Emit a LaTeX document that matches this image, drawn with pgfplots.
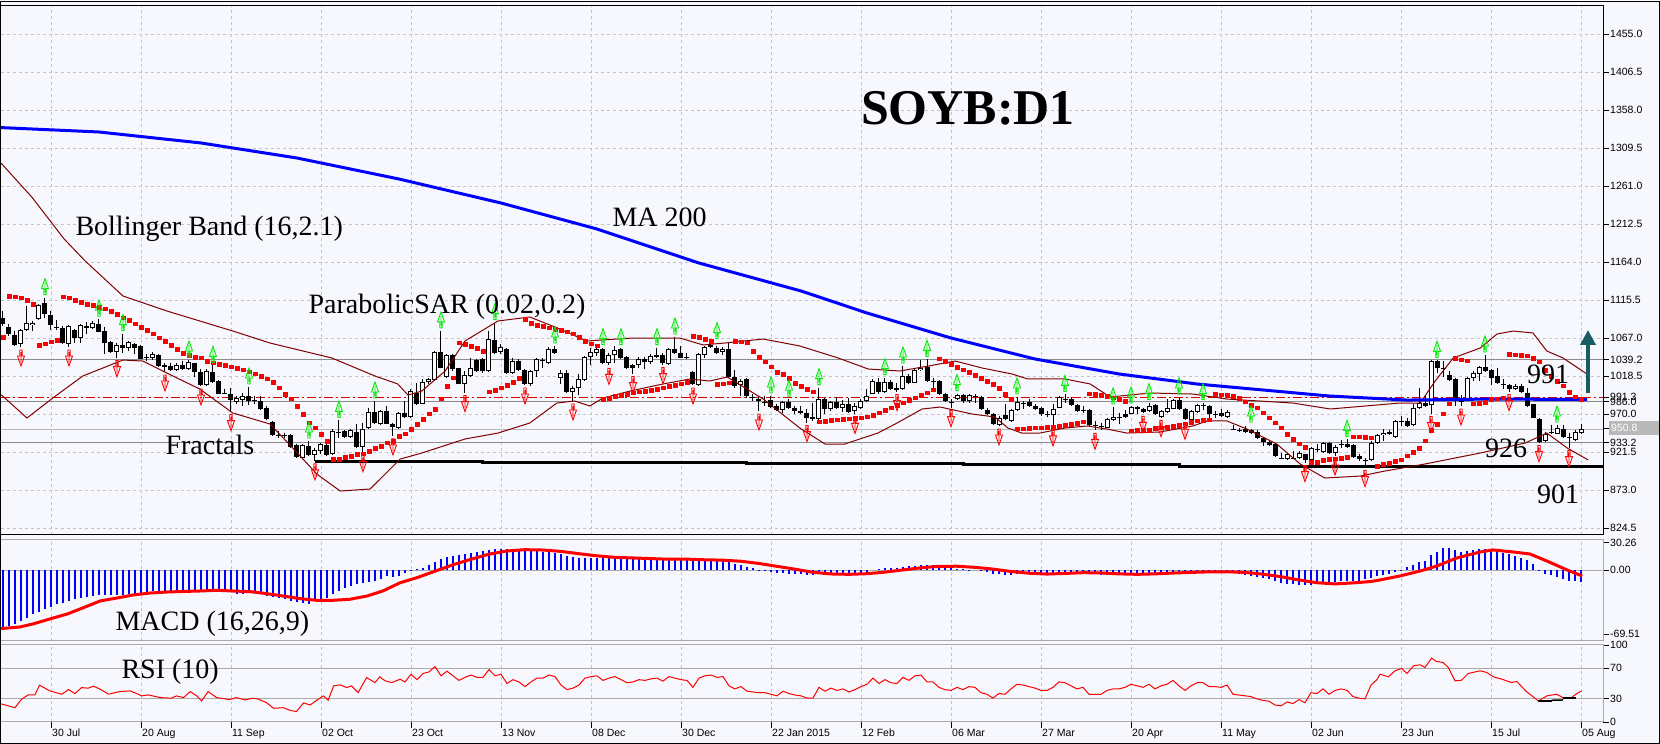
\documentclass[border=0pt]{standalone}
\usepackage{fontspec}
\setmainfont{Liberation Serif}
\newfontfamily\sansf{Liberation Sans}
\usepackage{pgfplots}
\pgfplotsset{compat=1.18}
\usepackage{pgfplotstable}
\usetikzlibrary{arrows.meta}

\definecolor{bgc}{RGB}{246,248,253}
\definecolor{gridc}{RGB}{196,196,196}
\definecolor{bandc}{RGB}{128,0,0}
\definecolor{lvl}{RGB}{140,140,140}
\definecolor{lvllight}{RGB}{185,185,185}
\definecolor{panelc}{RGB}{170,170,170}
\definecolor{arrowc}{RGB}{24,92,100}
\definecolor{fgreen}{RGB}{0,235,0}
\newcommand\tkf{\sansf\fontsize{10.5}{12}\selectfont}
\newcommand\lbf{\fontsize{28}{30}\selectfont}

% fractal arrows
\pgfdeclareplotmark{fup}{%
  \pgfpathmoveto{\pgfqpoint{0pt}{19pt}}%
  \pgfpathlineto{\pgfqpoint{3.5pt}{9pt}}%
  \pgfpathlineto{\pgfqpoint{1.2pt}{9pt}}%
  \pgfpathlineto{\pgfqpoint{1.2pt}{3pt}}%
  \pgfpathlineto{\pgfqpoint{-1.2pt}{3pt}}%
  \pgfpathlineto{\pgfqpoint{-1.2pt}{9pt}}%
  \pgfpathlineto{\pgfqpoint{-3.5pt}{9pt}}%
  \pgfpathclose
  \pgfpathmoveto{\pgfqpoint{0pt}{15pt}}%
  \pgfpathlineto{\pgfqpoint{0pt}{5pt}}%
  \pgfusepathqstroke}
\pgfdeclareplotmark{fdown}{%
  \pgfpathmoveto{\pgfqpoint{0pt}{-19pt}}%
  \pgfpathlineto{\pgfqpoint{3.5pt}{-9pt}}%
  \pgfpathlineto{\pgfqpoint{1.2pt}{-9pt}}%
  \pgfpathlineto{\pgfqpoint{1.2pt}{-3pt}}%
  \pgfpathlineto{\pgfqpoint{-1.2pt}{-3pt}}%
  \pgfpathlineto{\pgfqpoint{-1.2pt}{-9pt}}%
  \pgfpathlineto{\pgfqpoint{-3.5pt}{-9pt}}%
  \pgfpathclose
  \pgfpathmoveto{\pgfqpoint{0pt}{-15pt}}%
  \pgfpathlineto{\pgfqpoint{0pt}{-5pt}}%
  \pgfusepathqstroke}

% i = bar index (0 = 30 Jul), o h l c, s = parabolic SAR, m = MACD histogram
\pgfplotstableread{
i o h l c s m
-8 1093.0 1101.5 1082.3 1084.5 1068.3 -62.3
-7 1081.1 1084.5 1069.6 1072.6 1120.6 -60.5
-6 1070.9 1076.0 1056.8 1058.1 1119.8 -58.0
-5 1059.0 1078.1 1055.5 1077.2 1118.5 -55.1
-4 1076.8 1107.9 1076.0 1086.6 1115.1 -51.5
-3 1083.2 1088.7 1076.0 1086.6 1110.0 -47.8
-2 1090.9 1110.0 1089.6 1108.7 1058.1 -44.9
-1 1111.3 1118.5 1093.0 1097.2 1059.8 -42.4
0 1096.4 1101.5 1077.2 1083.2 1062.4 -39.8
1 1081.3 1089.6 1076.8 1081.1 1064.1 -36.9
2 1079.4 1082.3 1059.0 1060.2 1119.8 -35.1
3 1059.0 1083.6 1055.5 1082.3 1118.5 -33.3
4 1077.2 1078.1 1061.1 1067.5 1115.1 -30.8
5 1067.5 1085.3 1061.1 1083.2 1112.5 -29.7
6 1080.2 1087.5 1071.7 1081.9 1110.0 -28.6
7 1079.4 1088.7 1078.1 1086.6 1108.7 -27.9
8 1084.5 1090.9 1074.7 1075.1 1106.6 -27.2
9 1076.0 1081.1 1047.0 1061.1 1104.5 -26.8
10 1061.9 1063.2 1048.3 1049.6 1101.5 -26.8
11 1049.6 1061.1 1041.9 1058.1 1097.2 -26.8
12 1058.1 1072.6 1048.3 1054.7 1093.0 -26.8
13 1053.8 1063.2 1050.4 1061.9 1089.6 -26.1
14 1059.0 1061.1 1047.0 1054.7 1085.3 -25.4
15 1056.8 1057.7 1039.8 1040.7 1081.1 -24.3
16 1042.4 1046.2 1037.7 1041.9 1077.2 -23.2
17 1041.1 1049.6 1039.4 1046.2 1072.6 -22.5
18 1045.3 1046.2 1030.0 1031.3 1067.5 -22.5
19 1032.6 1035.5 1023.6 1030.0 1062.8 -22.5
20 1031.3 1035.5 1024.9 1026.2 1057.7 -22.5
21 1026.6 1035.5 1024.9 1032.1 1052.6 -22.5
22 1032.1 1037.7 1025.8 1027.0 1047.9 -22.5
23 1027.0 1038.9 1025.8 1036.4 1044.9 -22.5
24 1034.7 1035.5 1017.3 1024.1 1042.8 -22.5
25 1023.6 1027.0 1005.8 1006.6 1041.9 -22.5
26 1006.6 1027.0 1005.8 1024.9 1037.7 -22.5
27 1023.6 1032.1 1009.6 1011.3 1035.5 -21.8
28 1012.2 1013.0 995.1 996.0 1033.4 -21.8
29 997.0 1002.4 995.1 996.8 1032.1 -22.5
30 996.0 1003.6 973.0 987.5 1030.4 -23.2
31 985.8 993.0 982.4 990.9 1028.7 -25.4
32 987.5 997.3 980.2 993.0 1026.6 -25.4
33 993.0 1004.5 981.1 986.6 1024.1 -24.3
34 988.0 993.0 982.4 987.9 1021.5 -25.0
35 986.6 993.0 974.7 975.9 1018.5 -26.1
36 978.1 980.2 961.9 963.2 1015.1 -27.9
37 960.3 961.1 942.0 942.8 1010.9 -29.0
38 943.4 948.3 939.8 943.0 1003.6 -29.7
39 943.2 946.2 939.8 942.8 995.1 -31.5
40 943.2 945.0 927.1 928.4 989.6 -33.3
41 930.1 932.2 914.3 915.6 980.2 -34.4
42 914.3 931.3 913.0 930.5 969.6 -35.1
43 929.2 935.6 916.4 917.3 959.0 -36.2
44 917.7 926.2 910.1 923.7 952.6 -33.3
45 922.8 933.5 918.6 931.3 944.1 -32.6
46 930.1 931.3 916.4 917.7 935.6 -29.7
47 918.6 950.4 917.3 948.3 912.2 -26.1
48 947.5 961.9 939.8 947.3 912.2 -22.5
49 948.3 949.2 939.8 941.1 915.2 -19.6
50 941.1 950.4 939.8 949.2 916.4 -17.0
51 947.1 956.9 927.1 928.4 918.6 -15.2
52 928.4 959.0 920.7 950.4 919.5 -13.4
53 952.6 978.1 951.3 972.6 922.8 -12.7
54 972.6 986.6 956.9 958.1 926.2 -11.6
55 956.9 975.0 955.5 973.9 929.2 -9.8
56 973.9 980.2 956.9 957.7 933.5 -6.2
57 957.7 959.0 942.0 953.9 935.6 -7.3
58 952.6 973.0 951.3 970.9 942.0 -6.2
59 971.7 986.6 965.4 966.6 945.0 -3.0
60 966.6 1001.5 965.4 999.4 950.5 -1.0
61 997.3 1010.0 981.5 983.2 956.9 1.0
62 983.2 1014.3 982.4 1010.9 963.2 3.0
63 1010.9 1016.4 1007.9 1014.3 970.5 6.0
64 1013.0 1050.4 1012.2 1049.2 976.0 9.0
65 1049.2 1076.0 1028.3 1029.2 989.6 12.0
66 1017.3 1046.2 1016.4 1044.9 1005.8 14.0
67 1044.9 1046.2 1024.9 1027.0 1016.4 16.0
68 1028.3 1029.2 1007.9 1008.8 1061.1 17.0
69 1008.8 1024.9 997.3 1019.8 1059.0 18.0
70 1018.5 1041.1 1017.3 1028.3 1056.8 19.0
71 1038.5 1039.8 1024.1 1024.9 1053.9 20.0
72 1039.8 1041.1 1022.8 1024.9 1050.4 21.0
73 1024.9 1076.0 1024.1 1065.3 998.5 22.0
74 1064.1 1086.6 1047.0 1048.3 1000.2 23.0
75 1049.6 1059.0 1046.2 1056.0 1003.6 23.5
76 1052.6 1054.7 1021.5 1022.8 1007.0 23.5
77 1022.8 1042.0 1021.5 1037.7 1010.9 23.0
78 1037.7 1039.8 1024.9 1025.8 1015.6 22.5
79 1025.8 1027.0 1007.0 1007.9 1090.9 22.0
80 1007.9 1025.8 1005.8 1024.9 1085.8 21.0
81 1024.9 1041.9 1017.3 1039.8 1083.2 20.5
82 1039.0 1041.1 1029.2 1039.2 1082.3 20.0
83 1035.5 1055.5 1034.3 1052.6 1080.2 19.5
84 1052.6 1056.8 1046.2 1048.3 1078.1 19.0
85 1015.6 1026.2 1007.9 1022.0 1076.8 17.5
86 1022.0 1025.8 997.3 998.5 1075.1 16.0
87 998.5 1005.8 986.6 1002.8 1072.6 14.5
88 1002.8 1020.7 994.3 1014.3 1068.3 13.5
89 1013.0 1044.1 1012.2 1042.8 1063.2 13.5
90 1042.8 1054.7 1032.1 1049.2 1059.8 13.5
91 1047.9 1056.8 1044.1 1052.6 1057.0 13.5
92 1052.6 1054.7 1033.4 1035.5 988.8 13.5
93 1035.5 1048.3 1032.1 1045.3 990.0 13.5
94 1044.9 1056.8 1035.5 1051.3 992.6 13.5
95 1052.6 1054.7 1040.7 1041.9 994.3 13.5
96 1042.8 1044.1 1027.9 1029.2 995.1 13.0
97 1029.2 1033.4 1021.5 1032.1 997.3 12.5
98 1032.6 1042.8 1029.2 1040.7 998.5 12.0
99 1040.7 1042.8 1027.0 1036.8 999.4 12.0
100 1036.4 1046.2 1033.4 1044.1 1000.6 12.0
101 1042.8 1054.7 1041.1 1045.3 1001.9 12.0
102 1045.3 1047.5 1033.0 1034.7 1003.6 12.0
103 1033.4 1053.9 1032.1 1052.6 1005.8 12.0
104 1052.6 1068.3 1047.0 1048.3 1007.0 12.5
105 1048.3 1056.8 1041.1 1041.9 1008.8 12.5
106 1042.8 1048.3 1039.8 1041.1 1010.9 12.0
107 1023.6 1024.9 1007.0 1007.9 1069.6 10.0
108 1006.6 1047.5 1005.8 1046.2 1068.3 10.0
109 1044.9 1056.8 1041.9 1056.0 1065.3 10.5
110 1055.5 1062.4 1054.7 1058.1 1063.2 11.0
111 1054.7 1056.8 1047.0 1048.3 1007.9 11.0
112 1049.2 1055.5 1045.3 1052.6 1008.8 11.0
113 1052.6 1061.9 1016.4 1017.3 1010.0 9.0
114 1017.3 1026.2 1003.6 1005.8 1063.2 7.0
115 1006.6 1014.3 993.0 1012.2 1062.4 5.5
116 1015.1 1016.4 990.9 993.0 1061.1 3.5
117 991.9 995.1 986.6 991.7 1050.4 2.0
118 988.8 993.0 973.9 986.6 1042.8 0.5
119 985.3 993.0 980.2 985.1 1036.8 -0.5
120 987.5 993.0 978.1 979.0 1030.5 -1.5
121 980.2 983.2 973.9 974.7 1023.6 -2.5
122 974.7 986.6 971.7 985.3 1020.7 -3.0
123 985.3 988.8 975.9 977.3 1015.6 -3.5
124 978.1 980.2 969.6 973.9 1009.5 -4.0
125 973.9 980.2 969.6 971.7 1005.8 -4.5
126 971.7 976.8 959.0 965.4 1001.5 -5.0
127 966.6 984.5 961.1 963.2 998.5 -5.5
128 963.2 1003.6 961.9 988.8 960.3 -4.5
129 988.8 991.0 970.5 976.0 961.1 -4.5
130 976.0 986.6 973.9 985.3 962.0 -4.0
131 985.3 991.7 976.0 978.1 962.8 -4.0
132 978.1 987.5 973.0 982.4 963.2 -3.5
133 983.2 990.9 971.7 973.0 964.1 -3.5
134 973.9 984.5 969.6 980.2 965.0 -3.0
135 978.1 988.8 976.8 986.6 965.4 -2.5
136 986.6 1001.5 985.3 993.0 966.6 -1.5
137 996.0 1014.3 995.1 1012.2 968.8 0.0
138 1010.9 1016.4 996.0 998.5 971.7 1.0
139 998.5 1016.4 997.3 1010.9 974.7 2.0
140 1010.9 1013.0 1000.2 1001.5 978.1 2.5
141 1003.6 1010.0 998.5 1000.2 981.5 3.0
142 1001.5 1031.3 1000.2 1018.5 984.5 4.0
143 1018.5 1020.7 1007.9 1010.0 987.5 4.5
144 1010.0 1028.3 1009.2 1026.2 990.9 5.0
145 1025.8 1038.5 1024.9 1029.2 994.3 6.0
146 1030.5 1039.8 1011.3 1012.2 997.3 6.0
147 1012.6 1016.4 1002.8 1012.4 1001.0 5.5
148 1012.2 1013.9 993.8 995.1 1040.7 4.5
149 995.1 997.3 985.8 986.6 1037.7 3.0
150 985.9 988.8 978.1 985.7 1033.4 2.0
151 988.8 996.0 987.5 993.9 1030.0 1.5
152 993.9 996.0 984.5 986.6 1026.6 1.0
153 986.6 995.1 983.6 993.9 1023.2 0.5
154 993.1 995.1 984.5 992.9 1019.8 0.0
155 991.7 993.0 974.7 976.0 1015.6 -1.0
156 974.7 978.1 968.8 970.5 1012.2 -2.0
157 969.6 971.7 956.0 956.9 1007.9 -3.5
158 956.0 967.5 954.7 965.4 1002.8 -4.5
159 968.4 982.4 962.0 963.2 995.1 -5.0
160 961.1 976.0 960.3 974.7 988.8 -5.0
161 974.7 991.7 973.9 985.3 951.0 -4.5
162 984.6 986.6 976.8 984.4 951.5 -4.0
163 985.3 988.8 978.9 980.2 952.0 -3.5
164 980.2 982.4 974.7 976.0 952.3 -3.5
165 977.3 979.0 967.5 969.6 952.6 -3.5
166 970.6 973.9 966.2 970.4 952.9 -3.5
167 968.8 983.2 953.5 976.8 953.2 -3.5
168 978.1 993.0 977.3 991.7 954.5 -2.5
169 989.7 995.1 984.5 989.5 955.5 -2.0
170 988.8 991.7 980.2 981.1 957.0 -2.0
171 981.1 983.2 973.0 973.9 958.5 -2.0
172 975.3 980.2 971.7 975.1 960.0 -2.0
173 974.7 976.0 954.7 955.6 996.0 -3.0
174 956.2 961.1 949.2 956.0 995.1 -4.0
175 954.9 959.0 949.2 954.7 993.9 -5.0
176 952.6 965.4 951.7 963.2 992.6 -5.0
177 962.4 978.9 961.1 966.6 990.9 -5.0
178 966.8 971.7 957.7 966.6 988.8 -5.0
179 966.6 974.7 965.4 969.6 986.6 -4.5
180 970.5 980.2 969.6 978.9 948.5 -4.0
181 978.9 980.2 969.6 976.0 949.0 -3.5
182 976.0 978.1 970.9 972.6 949.4 -3.5
183 973.9 984.5 972.6 980.2 949.6 -3.0
184 981.1 983.2 968.4 969.6 951.7 -3.0
185 966.6 974.7 965.4 973.9 952.6 -3.0
186 973.0 988.8 971.7 978.1 953.5 -2.5
187 976.8 988.8 975.9 987.5 954.3 -2.0
188 987.5 991.7 975.5 976.8 955.6 -1.5
189 976.8 978.1 962.0 963.2 957.5 -2.0
190 961.9 974.7 961.1 973.9 959.5 -2.0
191 973.0 983.2 971.7 981.5 961.5 -1.5
192 981.3 984.5 974.7 981.1 962.0 -1.0
193 980.2 981.1 963.2 969.6 962.5 -1.5
194 969.7 973.9 964.5 969.5 995.1 -1.5
195 971.7 976.0 966.2 967.5 994.7 -1.5
196 966.6 974.7 965.4 972.6 994.3 -1.5
197 950.5 956.0 949.2 950.3 993.0 -3.0
198 949.5 952.6 947.1 949.3 990.0 -4.0
199 950.4 954.7 945.8 947.1 985.8 -5.0
200 949.2 950.4 944.1 946.2 981.5 -6.0
201 947.5 949.2 937.7 939.8 978.1 -7.0
202 939.8 940.6 929.2 934.7 971.7 -8.5
203 934.3 935.6 928.8 930.1 965.4 -10.0
204 931.3 932.6 915.6 916.4 959.0 -12.0
205 913.5 920.7 912.2 913.3 952.6 -13.5
206 912.2 920.7 911.3 918.6 944.1 -14.5
207 914.4 922.8 912.2 914.2 937.7 -15.0
208 914.3 922.8 912.2 920.7 932.2 -15.5
209 918.6 919.5 907.9 910.9 928.0 -16.0
210 910.9 927.9 910.1 926.2 908.8 -15.5
211 925.0 932.2 921.9 924.8 908.8 -15.0
212 921.9 934.3 920.7 932.6 911.0 -14.0
213 932.6 934.3 919.5 920.7 912.2 -13.5
214 920.7 930.5 916.4 927.9 912.8 -13.0
215 931.4 936.4 927.1 931.2 913.5 -12.0
216 932.2 937.7 926.2 927.9 914.5 -11.5
217 930.1 931.3 914.3 915.6 941.1 -12.0
218 916.4 919.5 910.1 912.2 941.1 -12.5
219 910.9 913.5 901.6 910.7 940.7 -9.0
220 910.9 935.6 910.1 933.5 940.0 -8.0
221 933.5 944.9 932.2 942.8 903.5 -6.5
222 942.8 950.4 935.6 946.2 906.2 -5.3
223 944.1 950.0 943.0 947.1 907.1 -4.1
224 941.1 962.0 939.8 961.1 909.6 -2.3
225 961.2 967.5 954.7 961.0 911.7 0.4
226 961.1 965.4 953.5 954.7 916.8 3.6
227 956.0 982.4 954.7 978.1 921.1 5.7
228 977.3 1002.8 976.0 984.5 926.6 9.0
229 984.5 993.0 978.9 980.2 935.9 10.0
230 981.5 1038.5 970.5 1037.7 949.6 16.5
231 1037.7 1038.5 1022.8 1028.3 957.2 19.8
232 1028.4 1037.7 1017.3 1028.2 970.5 23.8
233 1019.8 1024.9 1012.2 1013.9 983.2 24.5
234 1014.3 1016.4 980.2 986.6 1041.0 22.0
235 985.8 994.3 980.2 988.8 1039.5 20.2
236 988.8 1017.3 987.5 1015.6 1038.0 20.9
237 1015.6 1024.9 1012.2 1022.8 983.2 22.0
238 1020.7 1031.3 1012.2 1030.0 983.6 22.7
239 1030.0 1045.3 1023.6 1024.9 985.0 22.7
240 1025.8 1027.9 1007.1 1016.4 988.7 22.0
241 1018.5 1029.2 1007.9 1009.2 989.5 20.9
242 1008.4 1014.3 1001.5 1006.6 990.8 19.1
243 1006.6 1007.9 998.5 1001.5 1046.1 17.3
244 1001.5 1008.8 1000.2 1005.8 1045.5 15.5
245 1005.8 1008.8 997.3 998.1 1045.0 13.0
246 997.3 1002.8 979.0 980.2 1044.2 10.8
247 982.4 983.2 964.5 965.4 1041.0 7.2
248 963.2 965.4 933.4 934.7 1036.6 0.3
249 935.6 947.1 934.7 944.9 1026.0 -4.1
250 947.2 956.0 944.1 947.0 1018.0 -5.5
251 944.9 956.0 944.1 951.7 1012.0 -7.7
252 950.4 956.0 939.0 940.7 1006.0 -9.1
253 941.2 946.2 927.1 941.0 998.0 -11.3
254 936.4 949.2 935.6 947.5 992.0 -12.0
255 946.2 957.7 944.9 950.4 989.0 -12.7
}\candles

\pgfplotstableread{
i p
-8.3 1290.0
-3.2 1246.9
2.2 1193.3
5.7 1165.3
12 1120.6
19.3 1101.5
30.3 1075.9
36.5 1060.6
46.8 1041.5
54 1018.5
57.8 1008.3
59.5 994.2
61.8 999.3
65.7 1024.9
69 1063.2
74.5 1088.7
79.8 1093.8
84 1081.0
89.3 1063.2
97 1067.0
104.8 1067.0
108.7 1058.1
112.3 1060.6
118.7 1065.7
124.8 1056.8
131.2 1041.5
136.2 1027.4
141.5 1024.9
146.2 1031.2
150.7 1037.6
155.2 1028.7
160.2 1021.0
162.8 1014.7
169 1014.7
173.2 1008.3
176.5 991.7
183.2 996.8
190.3 995.5
196 989.1
207 984.0
213.2 976.4
224.8 984.0
228.2 984.0
230.7 1012.1
233.7 1041.5
238.2 1054.2
241 1072.1
243.7 1075.9
247 1073.4
249.3 1050.4
252 1041.5
256 1021.0
}\bbup

\pgfplotstableread{
i p
-8.3 994.6
-4 964.9
0.3 990.4
5.3 1018.5
12 1038.9
15.3 1037.6
19.3 1022.3
24.8 1001.9
30.3 971.3
36.5 957.2
40.3 926.6
44.3 893.4
48.2 871.7
53.2 874.3
58.2 912.5
61.8 920.2
69 938.1
74.5 945.7
79.8 958.5
84.3 984.0
87.3 986.6
89.8 980.2
92 990.4
96.5 999.3
102 1008.3
106.5 1014.7
109.8 1012.1
112.7 1017.2
118.7 989.1
124.8 952.1
129 931.7
132.3 931.7
137.8 945.7
140.7 957.2
145.2 976.4
148.2 978.9
153.5 970.0
157.3 966.2
159.5 952.1
161.8 945.7
164.8 945.7
169 952.1
172.7 954.7
176 950.8
179.3 945.7
184.8 947.0
190.3 954.7
192.7 961.1
196 961.1
199.3 950.8
204.3 931.7
208.2 906.2
212.3 888.3
218.2 890.8
222.3 897.2
229 906.2
238.2 920.2
245.7 933.0
249.3 945.7
252.7 926.6
256.2 911.3
}\bblow

\pgfplotstableread{
i p
-8.3 1335.5
8 1329.9
25 1315.9
41 1296.7
58 1269.9
75 1239.3
91 1206.1
108 1162.7
125 1127.0
136 1098.9
150 1067.0
164 1040.2
178 1021.1
191 1008.3
213 993.0
226 987.8
240 989.1
256 988.5
}\mama

\pgfplotstableread{
i v
-1 1118.5
8 1090.9
12 1072.6
23 1038.9
27 1032.1
33 1004.5
43 935.6
48 961.9
54 986.6
65 1076.0
74 1086.6
84 1056.8
92 1054.7
95 1054.7
101 1054.7
104 1068.3
111 1062.4
120 993.0
123 988.8
128 1003.6
139 1016.4
142 1031.3
146 1039.8
151 996.0
161 991.7
169 995.1
177 978.9
180 980.2
183 984.5
188 991.7
192 984.5
200 956.0
216 937.7
231 1038.5
239 1045.3
251 956.0
}\fracup

\pgfplotstableread{
i v
-5 1055.5
3 1055.5
11 1041.9
19 1023.6
25 1005.8
30 973.0
44 910.1
52 920.7
57 942.0
69 997.3
79 1007.0
87 986.6
93 1032.1
97 1021.5
102 1033.0
107 1007.0
118 973.9
126 959.0
134 969.6
141 998.5
150 978.1
158 954.7
167 953.5
174 949.2
182 970.9
185 965.4
189 962.0
209 907.9
214 916.4
219 901.6
230 970.5
235 980.2
243 998.5
248 933.4
253 927.1
}\fracdown

\pgfplotstableread{
i v
-8.3 -63.3
-5.2 -61.6
-3.0 -58.3
-0.2 -52.9
2.7 -47.5
5.3 -40.9
8.2 -33.3
11.0 -30.1
13.7 -26.8
16.5 -24.7
19.3 -23.6
22.0 -23.0
24.8 -22.5
27.7 -21.7
30.3 -22.5
33.2 -23.2
36.0 -25.4
38.7 -27.9
41.5 -30.8
44.3 -32.6
47.0 -32.6
49.8 -31.5
52.7 -27.9
55.3 -22.5
58.2 -13.5
61 -8.0
64 -1.0
67 6.0
70 12.0
73 17.5
76 21.0
79 22.4
82 22.0
85 20.5
88 18.0
91 15.7
94 14.0
97 13.4
100 12.7
103 12.0
106 12.1
109 11.4
112 11.0
115 9.8
118 7.4
121 4.3
124 1.2
127 -2.2
130 -4.0
133 -4.4
136 -3.7
139 -2.0
142 0.4
145 2.7
148 4.3
151 4.4
154 3.2
157 1.3
160 -1.3
163 -3.2
166 -4.1
169 -3.4
172 -2.6
175 -2.9
178 -3.9
181 -4.4
184 -3.9
187 -3.0
190 -2.3
193 -1.7
196 -1.6
199 -2.3
202 -4.2
205 -7.0
208 -10.5
211 -13.5
214 -14.8
217 -13.7
220 -12.2
221.5 -10.5
224.8 -6.2
228.2 -0.8
231 4.7
234.3 13.4
238.2 19.9
240.3 22.1
243.7 19.9
246.5 17.7
249.3 10.1
252.7 0.3
255.2 -6.2
}\signal

\pgfplotstableread{
i v
-8.3 23.5
-6.0 18.6
-4.9 29.6
-3.8 35.2
-2.7 35.2
-1.9 47.8
-0.2 40.4
1.8 36.1
2.9 42.1
4.0 36.9
5.1 44.7
6.2 43.9
7.1 46.5
8.2 42.6
9.6 36.1
10.7 38.2
11.5 39.5
13.2 40.4
14.3 36.9
15.1 33.9
16.2 35.2
18.2 31.7
20.1 30.9
20.9 33.9
22.1 31.7
23.2 39.5
24.3 33.9
25.1 27.4
26.2 39.5
27.6 31.7
29.8 29.1
30.9 31.7
32.3 28.7
33.7 30.9
34.6 29.6
35.9 25.2
37.1 17.8
38.7 18.6
39.8 15.2
40.9 13.5
42.1 24.8
43.2 22.1
44.3 28.3
45.4 33.9
46.2 28.3
47.1 46.9
48.2 48.2
49.3 44.7
50.1 46.9
51.2 38.2
52.6 57.7
54.0 51.2
54.8 58.6
55.7 53.4
56.8 51.2
58.2 55.6
59 52
60 62
61 55
62 63
63 65
64 72
65 60
66 66
67 60
68 54
69 58
70 61
71 58
72 58
73 68
74 60
75 62
76 50
77 55
78 52
79 46
80 52
81 57
82 57
83 61
84 59
85 48
86 42
87 44
88 48
89 57
90 59
91 60
92 54
93 57
94 59
95 55
96 51
97 52
98 55
99 54
100 56
101 57
102 53
103 59
104 57
105 55
106 54
107 45
108 57
109 60
110 61
111 58
112 59
113 47
114 43
115 46
116 40
117 39
118 38
119 38
120 36
121 34
122 40
123 37
124 35
125 34
126 31
127 31
128 45
129 40
130 44
131 41
132 43
133 39
134 42
135 46
136 49
137 57
138 50
139 55
140 51
141 50
142 58
143 54
144 60
145 61
146 52
147 52
148 45
149 42
150 41
151 45
152 42
153 46
154 45
155 38
156 36
157 31
158 37
159 36
160 43
161 49
162 48
163 46
164 44
165 41
166 41
167 45
168 52
169 51
170 47
171 43
172 45
173 36
174 36
175 36
176 41
177 43
178 43
179 45
180 49
181 47
182 45
183 49
184 43
185 47
186 49
187 54
188 47
189 41
190 47
191 51
192 51
193 46
194 46
195 45
196 48
197 36
198 35
199 34
200 33
201 30
202 28
203 27
204 22
205 21
206 26
207 24
208 29
209 25
210 38
211 37
212 43
213 36
214 41
215 43
216 41
217 33
218 31
219 30
220 48
221 55
221.5 62.1
222.9 58.7
224.0 66.5
225.1 69.5
226.0 63.0
227.1 73.0
228.2 74.3
229.0 70.8
230.1 83.0
230.9 78.6
232.0 77.3
232.9 70.8
234.0 53.4
235.1 54.3
236.2 63.0
238.2 66.5
239.3 64.3
240.4 58.7
241.8 55.6
243.4 51.3
244.3 52.6
245.9 39.5
247.9 27.4
249.3 33.9
250.9 36.1
252.0 31.7
253.4 31.7
254.3 36.9
255.1 40.4
}\rsi

\pgfplotsset{
  mtpanel/.style={
    scale only axis, width=1602pt,
    xmin=-8.33, xmax=258.67,
    xtick={0,15,...,255}, xmajorgrids,
    grid style={gridc, dash pattern=on 3pt off 3pt, line width=0.8pt},
    ytick pos=right, yticklabel pos=right,
    tick align=outside, major tick length=6pt,
    ytick style={black, line width=0.8pt},
    yticklabel style={font=\tkf, anchor=west, inner sep=1pt},
  },
  % error bars used as vertical bars, with no point marks
  vbar/.style={only marks, mark=*, mark size=0pt, mark options={draw=none, fill=none},
    error bars/.cd, y dir=minus, y explicit, error mark=none,
    error bar style={line width=#1}},
}

\begin{document}
\begin{tikzpicture}[x=1pt,y=1pt]
\fill[bgc] (0,0) rectangle (1660,743);

% ---------------- price panel ----------------
\begin{scope}[shift={(1pt,209pt)}]
\begin{axis}[mtpanel,
  at={(0pt,0pt)}, anchor=south west, height=529pt,
  ymin=815.6, ymax=1490.7,
  axis line style={black, line width=1pt},
  xticklabels={}, xtick style={draw=none},
  ymajorgrids,
  ytick={824.5,873,921.5,970,1018.5,1067,1115.5,1164,1212.5,1261,1309.5,1358,1406.5,1455},
  yticklabels={824.5,873.0,921.5,970.0,1018.5,1067.0,1115.5,1164.0,1212.5,1261.0,1309.5,1358.0,1406.5,1455.0},
  extra y ticks={933.2,986.0,991.3,1039.2},
  extra y tick labels={933.2,986.0,991.3,1039.2},
  extra y tick style={grid=none},
]
% levels
\addplot[lvl, line width=1pt] coordinates {(-8.33,1039.2) (258.67,1039.2)};
\addplot[lvl, line width=1pt] coordinates {(-8.33,986.0) (258.67,986.0)};
\addplot[lvllight, line width=1pt] coordinates {(-8.33,950.8) (258.67,950.8)};
\addplot[lvl, line width=1pt] coordinates {(-8.33,933.2) (258.67,933.2)};
\addplot[red!85!black, line width=1.2pt, dash pattern=on 9pt off 3pt on 2pt off 3pt] coordinates {(-8.33,991.3) (258.67,991.3)};
\addplot[black, line width=3pt, const plot] coordinates {(44,909.5) (72,908.5) (116,907.0) (152,906.0) (188,903.0) (258.67,903.0)};

% candles: wicks, bodies, white interiors
\addplot[black, vbar=1pt]
  table[x=i, y=h, y error expr={\thisrow{h}-\thisrow{l}}] {\candles};
\addplot[black, vbar=5pt]
  table[x=i, y expr={max(\thisrow{o},\thisrow{c})}, y error expr={max(abs(\thisrow{c}-\thisrow{o}),1.3)}] {\candles};
\addplot[white, restrict y to domain=850:1500, vbar=3pt]
  table[x=i, y expr={(\thisrow{c}-\thisrow{o}>3) ? \thisrow{c}-1.3 : 700},
    y error expr={(\thisrow{c}-\thisrow{o}>3) ? \thisrow{c}-\thisrow{o}-2.6 : 0}] {\candles};

% indicators
\addplot[bandc, line width=1pt] table[x=i, y=p] {\bbup};
\addplot[bandc, line width=1pt] table[x=i, y=p] {\bblow};
\addplot[blue, line width=3pt] table[x=i, y=p] {\mama};
\addplot[only marks, mark=square*, mark size=1.8pt, red, mark options={draw=none, fill=red}] table[x=i, y=s] {\candles};
\addplot[only marks, mark=fup, mark options={draw=fgreen, line width=0.9pt}] table[x=i, y=v] {\fracup};
\addplot[only marks, mark=fdown, mark options={draw=red, line width=0.9pt}] table[x=i, y=v] {\fracdown};
\end{axis}
\end{scope}

% ---------------- MACD panel ----------------
\begin{scope}[shift={(1pt,103pt)}]
\begin{axis}[mtpanel,
  at={(0pt,0pt)}, anchor=south west, height=101pt,
  ymin=-76.8, ymax=32.9,
  axis line style={panelc, line width=1pt},
  xticklabels={}, xtick style={draw=none},
  ytick={-69.51,0,30.26}, yticklabels={-69.51,0.00,30.26},
]
\addplot[panelc, line width=1pt] coordinates {(-8.33,0) (258.67,0)};
\addplot[blue, vbar=1.3pt]
  table[x=i, y expr={max(\thisrow{m},0)}, y error expr={abs(\thisrow{m})}] {\candles};
\addplot[red, line width=3pt, line join=round] table[x=i, y=v] {\signal};
\end{axis}
\end{scope}

% ---------------- RSI panel ----------------
\begin{scope}[shift={(1pt,22pt)}]
\begin{axis}[mtpanel,
  at={(0pt,0pt)}, anchor=south west, height=77pt,
  ymin=0, ymax=100,
  axis line style={panelc, line width=1pt},
  xtick pos=left,
  xtick style={black, line width=0.8pt},
  xticklabels={30 Jul,20 Aug,11 Sep,02 Oct,23 Oct,13 Nov,08 Dec,30 Dec,22 Jan 2015,12 Feb,06 Mar,27 Mar,20 Apr,11 May,02 Jun,23 Jun,15 Jul,05 Aug},
  xticklabel style={font=\tkf, anchor=north west, inner sep=1pt},
  ytick={0,30,70,100}, yticklabels={0,30,70,100},
]
\addplot[panelc, line width=1pt] coordinates {(-8.33,70) (258.67,70)};
\addplot[panelc, line width=1pt] coordinates {(-8.33,30) (258.67,30)};
\addplot[red, line width=1pt] table[x=i, y=v] {\rsi};
\addplot[black, line width=2.5pt] coordinates {(247.9,27.4) (250.1,27.4)};
\addplot[black, line width=1.5pt] coordinates {(250.1,28.2) (252,28.6)};
\addplot[black, line width=2pt] coordinates {(252,30.9) (254.2,30.9)};
\end{axis}
\end{scope}

% price label box
\fill[lvllight] (1609,309) rectangle (1659,322.5);
\draw[black, line width=0.8pt] (1603,316) -- (1609,316);
\node[font=\tkf, text=white, anchor=west, inner sep=1pt] at (1610,316) {950.8};

% annotations
\node[anchor=base, font=\fontsize{50}{50}\selectfont\bfseries] at (968,619) {SOYB:D1};
\node[anchor=base west, font=\lbf] at (609,517) {MA 200};
\node[anchor=base west, font=\lbf] at (72,508) {Bollinger Band (16,2.1)};
\node[anchor=base west, font=\lbf] at (305,430) {ParabolicSAR (0.02,0.2)};
\node[anchor=base west, font=\lbf] at (162,289) {Fractals};
\node[anchor=base west, font=\lbf] at (112,113) {MACD (16,26,9)};
\node[anchor=base west, font=\lbf] at (118,65) {RSI (10)};
\node[anchor=base west, font=\lbf, inner sep=0pt] at (1527,360) {991};
\node[anchor=base west, font=\lbf, inner sep=0pt] at (1485,286) {926};
\node[anchor=base west, font=\lbf, inner sep=0pt] at (1537,240) {901};
\draw[arrowc, line width=4.5pt, -{Triangle[width=15pt, length=15pt]}] (1588,351) -- (1588,414);

\draw[black, line width=1pt] (0.5,0.5) rectangle (1659.5,742.5);
\end{tikzpicture}
\end{document}
